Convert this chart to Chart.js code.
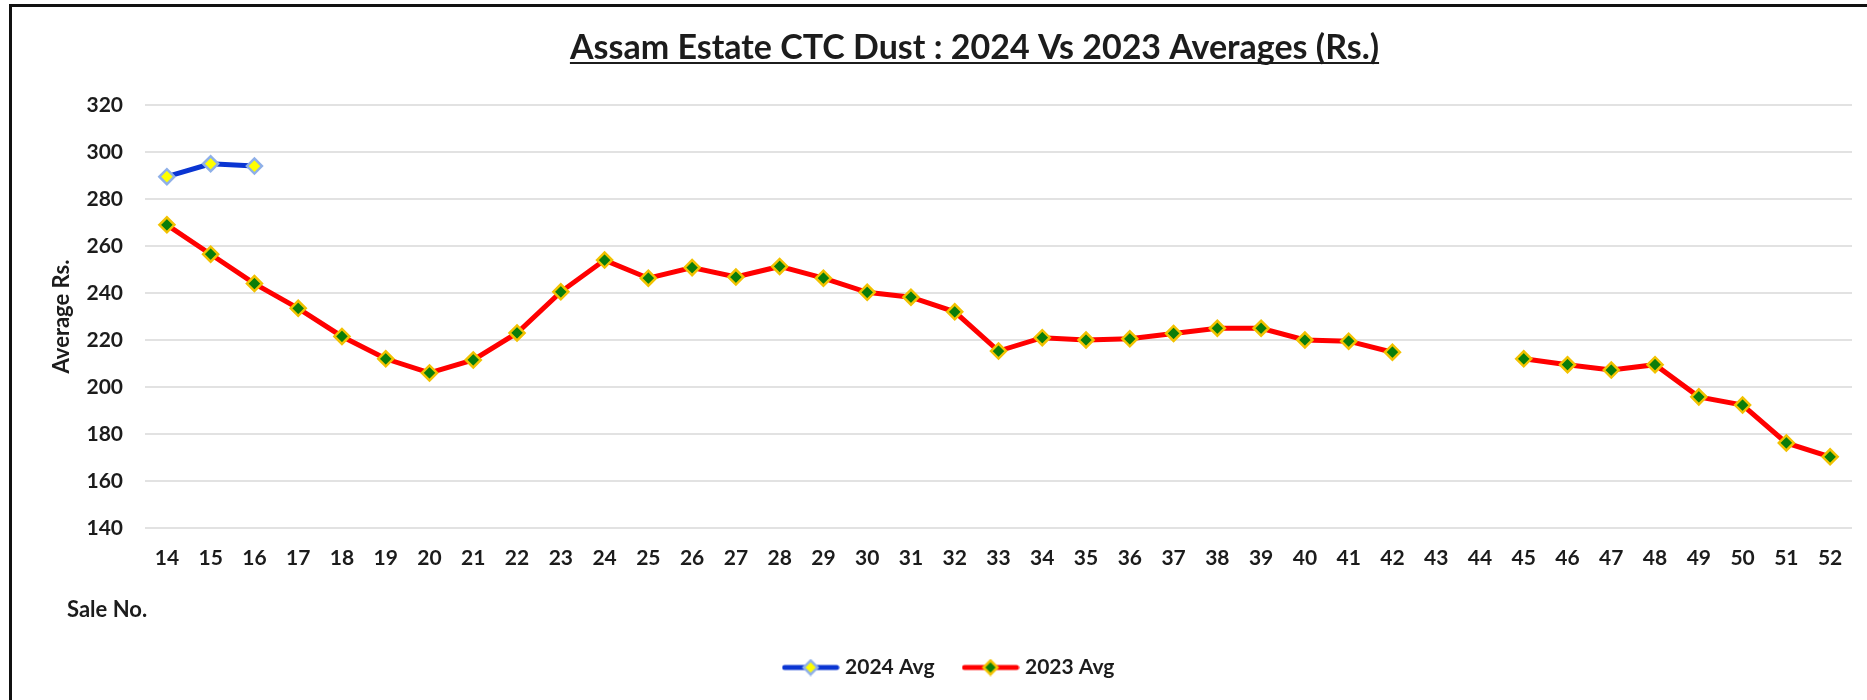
<!DOCTYPE html>
<html><head><meta charset="utf-8">
<script src="https://cdn.jsdelivr.net/npm/chart.js@4.4.1/dist/chart.umd.min.js"></script>
<style>
html,body{margin:0;padding:0;background:#fff;}
#wrap{position:relative;width:1867px;height:700px;overflow:hidden;background:#fff;}
#c{position:absolute;left:0;top:0;}
#frameL{position:absolute;left:9px;top:4px;width:3px;height:700px;background:#111;}
#frameT{position:absolute;left:9px;top:4px;width:1858px;height:3px;background:#111;}
</style></head><body>
<div id="wrap"><canvas id="c" width="1867" height="700"></canvas><div id="frameL"></div><div id="frameT"></div></div>
<script>
const chartTitle = 'Assam Estate CTC Dust : 2024 Vs 2023 Averages (Rs.)';
const xAxisTitle = 'Sale No.';
const yAxisTitle = 'Average Rs.';
const saleNumbers = ['14','15','16','17','18','19','20','21','22','23','24','25','26','27','28','29','30','31','32','33','34','35','36','37','38','39','40','41','42','43','44','45','46','47','48','49','50','51','52'];
const avg2024 = [289.5, 295, 294];
const avg2023 = [269, 256.5, 244, 233.5, 221.5, 212, 206, 211.5, 223, 240.5, 254, 246.3, 250.8, 246.8, 251.3, 246.3, 240.3, 238.2, 232, 215.3, 221, 220, 220.5, 222.8, 225, 225, 220, 219.5, 214.8, null, null, 212, 209.5, 207.2, 209.5, 195.8, 192.3, 176.2, 170.3];
const yMin = 140, yMax = 320, yStep = 20;

const FONT = 'Lato';
const TXT = '#1c1c1c';

function legendImage(lineColor, fill, border) {
  const cv = document.createElement('canvas');
  cv.width = 58; cv.height = 18;
  const g = cv.getContext('2d');
  g.strokeStyle = lineColor; g.lineWidth = 5; g.lineCap = 'round';
  g.beginPath(); g.moveTo(3, 9); g.lineTo(55, 9); g.stroke();
  g.fillStyle = fill; g.strokeStyle = border; g.lineWidth = 2.5;
  g.beginPath(); g.moveTo(29, 2); g.lineTo(36, 9); g.lineTo(29, 16); g.lineTo(22, 9); g.closePath();
  g.fill(); g.stroke();
  return cv;
}

const series = [
  {label: '2024 Avg', data: avg2024, line: '#0a35d2', fill: '#ffff00', border: '#8fb0e8'},
  {label: '2023 Avg', data: avg2023, line: '#ff0000', fill: '#0a7d0a', border: '#f2c200'}
];

const textPlugin = {
  id: 'textPlugin',
  afterDraw(chart) {
    const ctx = chart.ctx, a = chart.chartArea;
    ctx.save();
    ctx.fillStyle = TXT;
    ctx.font = 'bold 34px ' + FONT;
    ctx.textAlign = 'center';
    ctx.textBaseline = 'alphabetic';
    const tx = (a.left + a.right) / 2 - 24, ty = a.top - 46;
    ctx.fillText(chartTitle, tx, ty);
    const w = ctx.measureText(chartTitle).width;
    ctx.fillRect(tx - w / 2, ty + 3, w, 2);
    ctx.font = 'bold 22px ' + FONT;
    ctx.textAlign = 'left';
    ctx.textBaseline = 'middle';
    ctx.fillText(xAxisTitle, 67, a.bottom + 82);
    ctx.restore();
  }
};

new Chart(document.getElementById('c'), {
  type: 'line',
  data: {
    labels: saleNumbers,
    datasets: series.map(s => ({
      label: s.label, data: s.data,
      borderColor: s.line, backgroundColor: s.fill,
      borderWidth: 5, spanGaps: false, tension: 0,
      pointStyle: 'rectRot', pointRadius: 7.5, pointHoverRadius: 7.5,
      pointBackgroundColor: s.fill, pointBorderColor: s.border, pointBorderWidth: 2.5
    }))
  },
  options: {
    responsive: false, animation: false,
    layout: {padding: {left: 49, right: 15, top: 105, bottom: 12}},
    plugins: {
      tooltip: {enabled: false},
      title: {display: false},
      legend: {
        position: 'bottom',
        labels: {
          usePointStyle: true, pointStyleWidth: 48, padding: 32,
          color: TXT, font: {family: FONT, size: 21, weight: 'bold'},
          generateLabels(chart) {
            const items = Chart.defaults.plugins.legend.labels.generateLabels(chart);
            return items.map((it, i) => Object.assign(it, {pointStyle: legendImage(series[i].line, series[i].fill, series[i].border)}));
          }
        }
      }
    },
    scales: {
      x: {
        offset: true,
        grid: {display: false, drawTicks: false},
        border: {display: false},
        ticks: {color: TXT, font: {family: FONT, size: 21, weight: 'bold'}, padding: 18, maxRotation: 0, autoSkip: false},
        afterFit(scale) { scale.height = 97; }
      },
      y: {
        min: yMin, max: yMax,
        grid: {color: '#e2e2e2', lineWidth: 2, drawTicks: false},
        border: {display: false},
        ticks: {stepSize: yStep, color: TXT, font: {family: FONT, size: 21, weight: 'bold'}, padding: 22},
        title: {display: true, text: yAxisTitle, color: TXT, font: {family: FONT, size: 22, weight: 'bold'}, padding: 0},
        afterFit(scale) { scale.width = 96; }
      }
    }
  },
  plugins: [textPlugin]
});
</script>
</body></html>
